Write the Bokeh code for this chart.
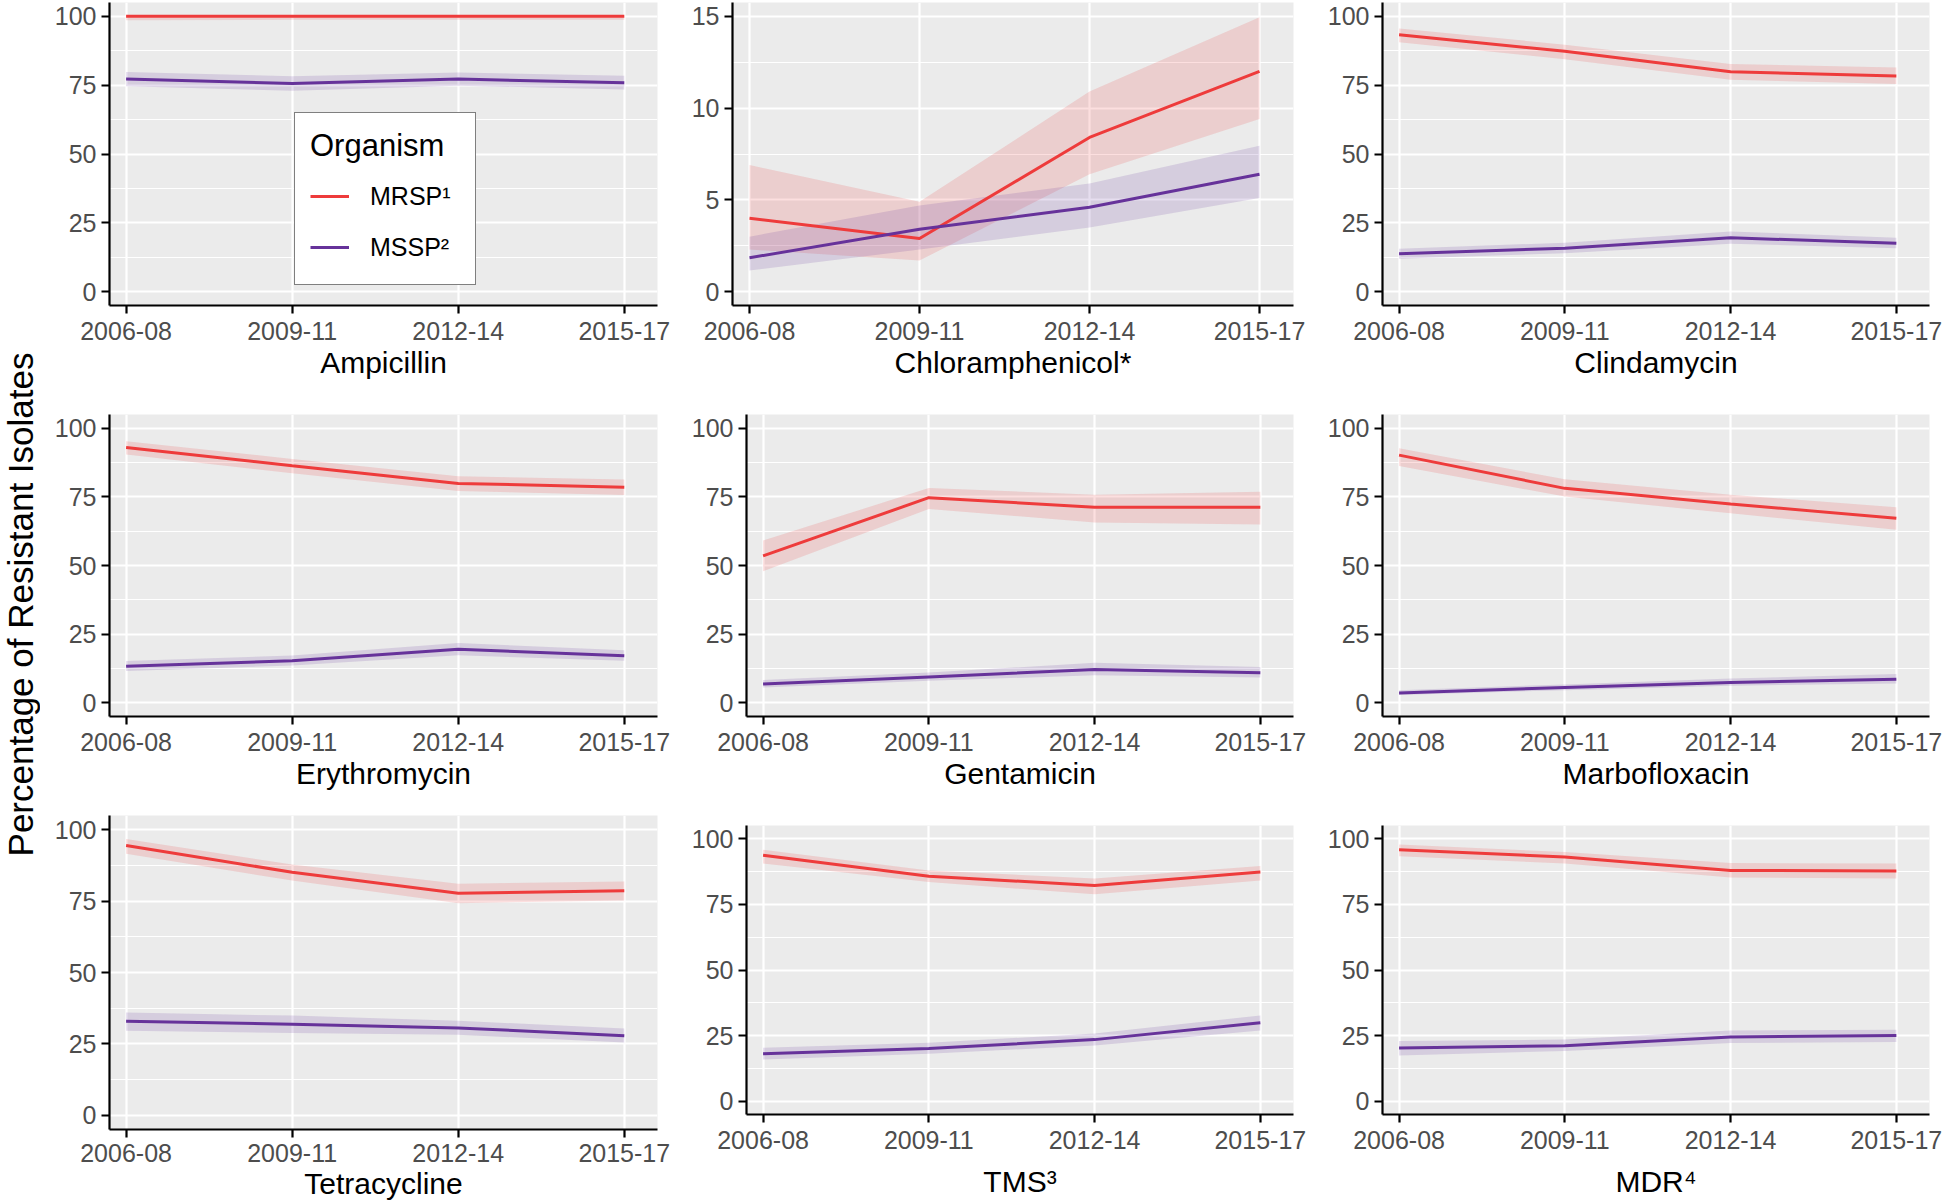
import math
from bokeh.plotting import figure
from bokeh.layouts import row, column
from bokeh.models import Range1d, FixedTicker, Label, Legend, LegendItem
from bokeh.embed import file_html
from bokeh.resources import INLINE

# ---------------- data ----------------
periods = ["2006-08", "2009-11", "2012-14", "2015-17"]
drugs = ["Ampicillin", "Chloramphenicol*", "Clindamycin",
         "Erythromycin", "Gentamicin", "Marbofloxacin",
         "Tetracycline", "TMS\u00b3", "MDR\u2074"]
organisms = ["MRSP\u00b9", "MSSP\u00b2"]
legend_title = "Organism"
y_title = "Percentage of Resistant Isolates"

mrsp_est = {
    "Ampicillin": [100, 100, 100, 100],
    "Chloramphenicol*": [4.0, 2.9, 8.4, 12.0],
    "Clindamycin": [93.3, 87.3, 79.9, 78.3],
    "Erythromycin": [93.0, 86.3, 79.9, 78.5],
    "Gentamicin": [53.5, 74.7, 71.2, 71.2],
    "Marbofloxacin": [90.2, 78.1, 72.4, 67.2],
    "Tetracycline": [94.5, 85.1, 77.8, 78.6],
    "TMS\u00b3": [93.7, 85.7, 82.2, 87.3],
    "MDR\u2074": [95.8, 93.0, 87.9, 87.7],
}
mrsp_lo = {
    "Ampicillin": [98.6, 98.7, 98.7, 98.7],
    "Chloramphenicol*": [2.3, 1.7, 6.4, 9.4],
    "Clindamycin": [90.6, 84.4, 77.0, 75.4],
    "Erythromycin": [90.4, 83.6, 77.1, 75.7],
    "Gentamicin": [47.9, 70.6, 65.7, 64.9],
    "Marbofloxacin": [86.2, 75.1, 69.0, 63.0],
    "Tetracycline": [91.6, 82.2, 74.3, 75.2],
    "TMS\u00b3": [90.5, 83.5, 78.8, 84.1],
    "MDR\u2074": [93.3, 90.5, 85.2, 84.8],
}
mrsp_hi = {
    "Ampicillin": [100, 100, 100, 100],
    "Chloramphenicol*": [6.9, 4.9, 10.9, 14.95],
    "Clindamycin": [95.6, 89.7, 82.7, 81.4],
    "Erythromycin": [95.3, 88.8, 82.5, 81.3],
    "Gentamicin": [59.1, 78.2, 75.8, 76.9],
    "Marbofloxacin": [92.7, 81.4, 75.8, 71.2],
    "Tetracycline": [96.8, 87.8, 81.1, 81.9],
    "TMS\u00b3": [95.8, 87.9, 84.8, 89.6],
    "MDR\u2074": [97.8, 94.9, 90.7, 90.5],
}
mssp_est = {
    "Ampicillin": [77.2, 75.6, 77.2, 75.9],
    "Chloramphenicol*": [1.85, 3.4, 4.6, 6.4],
    "Clindamycin": [13.8, 15.8, 19.6, 17.6],
    "Erythromycin": [13.3, 15.3, 19.5, 17.1],
    "Gentamicin": [6.8, 9.4, 12.1, 10.9],
    "Marbofloxacin": [3.6, 5.6, 7.4, 8.6],
    "Tetracycline": [32.9, 31.9, 30.6, 27.8],
    "TMS\u00b3": [18.1, 20.1, 23.5, 29.9],
    "MDR\u2074": [20.3, 21.2, 24.5, 25.1],
}
mssp_lo = {
    "Ampicillin": [74.6, 73.0, 74.8, 73.4],
    "Chloramphenicol*": [1.15, 2.3, 3.5, 5.1],
    "Clindamycin": [12.0, 14.0, 17.4, 15.8],
    "Erythromycin": [11.6, 13.6, 17.3, 15.3],
    "Gentamicin": [5.6, 8.0, 10.0, 9.2],
    "Marbofloxacin": [2.8, 4.6, 6.2, 7.0],
    "Tetracycline": [29.6, 28.8, 28.2, 25.5],
    "TMS\u00b3": [15.9, 18.1, 21.3, 27.0],
    "MDR\u2074": [17.5, 19.2, 22.2, 22.6],
}
mssp_hi = {
    "Ampicillin": [79.8, 78.2, 79.6, 78.4],
    "Chloramphenicol*": [3.0, 4.7, 5.9, 7.95],
    "Clindamycin": [15.6, 17.8, 21.9, 19.6],
    "Erythromycin": [15.2, 17.2, 21.8, 19.1],
    "Gentamicin": [8.3, 11.0, 14.6, 13.0],
    "Marbofloxacin": [4.6, 6.7, 8.8, 10.5],
    "Tetracycline": [36.0, 34.9, 33.1, 30.4],
    "TMS\u00b3": [20.4, 22.3, 25.8, 32.7],
    "MDR\u2074": [23.0, 23.5, 27.0, 27.3],
}

# ---------------- style / layout ----------------
FONT = "Liberation Sans"
RED = "#EE3B3B"
PURPLE = "#66329A"
PANEL_BG = "#EBEBEB"
RIBBON_ALPHA = 0.16

def X(v):
    return int(round(v))

def Y(v):
    return int(round(v))

cells_x = [(40, 676), (676, 1311), (1311, 1944)]
cells_y = [(0, 394), (394, 802), (802, 1204)]
# plot frames (left, top, right, bottom) in page pixels
frames = [
    (109.3, 2, 657, 305), (731.6, 2, 1293.2, 305), (1382, 2, 1929.2, 305),
    (109.3, 413.5, 657, 716.5), (745.9, 413.5, 1293.2, 716.5), (1382, 413.5, 1929.2, 716.5),
    (109.3, 815, 657, 1128.6), (745.9, 825.2, 1293.2, 1114.1), (1382, 825.2, 1929.2, 1114.1),
]
tick_standoff = [8, 8, 8, 8, 8, 8, 6, 8, 8]
title_standoff = [3, 3, 3, 3, 3, 3, 2, 13, 13]

xs = list(range(1, len(periods) + 1))


def no_align(fig):
    try:
        fig.frame_align = False
    except Exception:
        pass


def make_panel(i):
    drug = drugs[i]
    r, c = divmod(i, 3)
    cx0, cx1 = cells_x[c]
    cy0, cy1 = cells_y[r]
    fl, ft, fr, fb = frames[i]
    if drug.startswith("Chloramphenicol"):
        yr = Range1d(-0.75, 15.75)
        yt = FixedTicker(ticks=[0, 5, 10, 15], minor_ticks=[2.5, 7.5, 12.5])
    else:
        yr = Range1d(-5, 105)
        yt = FixedTicker(ticks=[0, 25, 50, 75, 100], minor_ticks=[12.5, 37.5, 62.5, 87.5])
    p = figure(width=X(cx1) - X(cx0), height=Y(cy1) - Y(cy0),
               x_range=Range1d(0.9, 4.2), y_range=yr,
               toolbar_location=None, output_backend="svg",
               min_border_left=X(fl) - X(cx0), min_border_right=X(cx1) - X(fr),
               min_border_top=Y(ft) - Y(cy0), min_border_bottom=Y(cy1) - Y(fb))
    no_align(p)
    p.background_fill_color = PANEL_BG
    p.border_fill_color = "white"
    p.outline_line_color = None

    # grids
    p.xaxis.ticker = FixedTicker(ticks=xs)
    p.yaxis.ticker = yt
    p.xgrid.ticker = FixedTicker(ticks=xs)
    p.ygrid.ticker = yt
    p.grid.grid_line_color = "white"
    p.grid.grid_line_width = 2.2
    p.ygrid.minor_grid_line_color = "white"
    p.ygrid.minor_grid_line_width = 1.1

    # axes
    p.xaxis.major_label_overrides = {x: lab for x, lab in zip(xs, periods)}
    for ax in (p.xaxis[0], p.yaxis[0]):
        ax.axis_line_color = "black"
        ax.axis_line_width = 2.2
        ax.major_tick_line_color = "black"
        ax.major_tick_line_width = 2.2
        ax.major_tick_out = 8
        ax.major_tick_in = 0
        ax.minor_tick_line_color = None
        ax.major_label_text_font = FONT
        ax.major_label_text_font_size = "25px"
        ax.major_label_text_color = "#4D4D4D"
    p.xaxis.major_label_standoff = tick_standoff[i]
    p.yaxis.major_label_standoff = 5
    p.xaxis.axis_label = drug
    p.xaxis.axis_label_text_font = FONT
    p.xaxis.axis_label_text_font_size = "30px"
    p.xaxis.axis_label_text_font_style = "normal"
    p.xaxis.axis_label_text_color = "black"
    p.xaxis.axis_label_standoff = title_standoff[i]

    # ribbons then lines
    p.varea(x=xs, y1=mrsp_lo[drug], y2=mrsp_hi[drug], fill_color=RED, fill_alpha=RIBBON_ALPHA)
    p.varea(x=xs, y1=mssp_lo[drug], y2=mssp_hi[drug], fill_color=PURPLE, fill_alpha=RIBBON_ALPHA)
    l1 = p.line(x=xs, y=mrsp_est[drug], line_color=RED, line_width=3)
    l2 = p.line(x=xs, y=mssp_est[drug], line_color=PURPLE, line_width=3)

    if i == 0:
        leg = Legend(items=[LegendItem(label=organisms[0], renderers=[l1]),
                            LegendItem(label=organisms[1], renderers=[l2])],
                     location=(X(293.5) - X(fl), Y(fb) - Y(285)))
        leg.title = legend_title
        leg.title_text_font = FONT
        leg.title_text_font_size = "31px"
        leg.title_text_font_style = "normal"
        leg.title_text_color = "black"
        leg.title_standoff = 10
        leg.label_text_font = FONT
        leg.label_text_font_size = "25px"
        leg.label_text_color = "black"
        leg.glyph_width = 39
        leg.glyph_height = 44
        leg.label_height = 44
        leg.label_width = 90
        leg.label_standoff = 21
        leg.spacing = 7
        leg.padding = 15
        leg.margin = 0
        leg.border_line_color = "black"
        leg.border_line_width = 1.5
        leg.background_fill_color = "white"
        leg.background_fill_alpha = 1.0
        p.add_layout(leg)
    return p


panels = [make_panel(i) for i in range(len(drugs))]

# y title strip
ylab = figure(width=X(40), height=Y(1204), x_range=Range1d(0, 1), y_range=Range1d(0, 1),
              toolbar_location=None, output_backend="svg", min_border=0)
no_align(ylab)
ylab.axis.visible = False
ylab.grid.visible = False
ylab.outline_line_color = None
ylab.add_layout(Label(x=19.5, y=1204 - 604, x_units="screen", y_units="screen",
                      text=y_title, angle=math.pi / 2, text_align="center",
                      text_baseline="middle", text_font=FONT, text_font_size="35px",
                      text_color="black"))

grid = column(row(*panels[0:3]), row(*panels[3:6]), row(*panels[6:9]))
p = row(ylab, grid)

open("out.html", "w").write(file_html(p, INLINE))
